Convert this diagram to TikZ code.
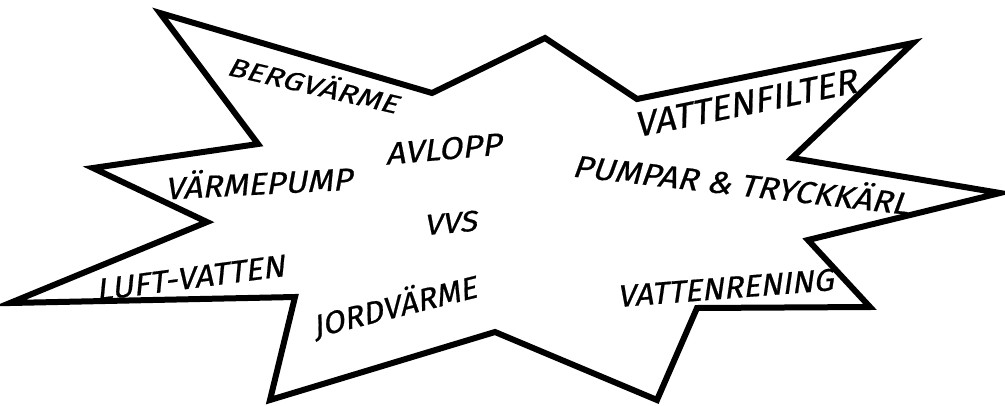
\documentclass[tikz,border=0pt]{standalone}
\usepackage{fontspec}
\newfontfamily\hand[FakeSlant=0.22,FakeBold=0.6]{Fira Sans}
\usepackage{graphicx}
\newcommand\lbl[3]{\resizebox{#1pt}{\height}{\fontsize{#2}{#2}\selectfont\hand #3}}
\begin{document}
\begin{tikzpicture}[x=1pt,y=-1pt,
  burst/.style={draw=black,line width=6pt,line join=miter,fill=white},
  word/.style={inner sep=0pt,text=black}]
\useasboundingbox (0,0) rectangle (1005,405);
\draw[burst] (160,13) -- (432,93) -- (545,38) -- (637,99) -- (913,43) -- (792,158)
  -- (1000,193) -- (808,240) -- (870,307) -- (697,308) -- (657,400) -- (495,332)
  -- (270,400) -- (295,297) -- (10,303) -- (207,222) -- (93,168) -- (258,144) -- cycle;
\node[word,rotate=-13] (berg) at (313,83) {\lbl{174}{26}{BERGVÄRME}};
\node[word,rotate=5] (avlopp) at (443,149) {\lbl{116}{31}{AVLOPP}};
\node[word,rotate=3] (vpump) at (258,181) {\lbl{187}{31}{VÄRMEPUMP}};
\node[word,rotate=5] (vvs) at (450,223) {\lbl{53}{29}{VVS}};
\node[word,rotate=7.5] (luft) at (190,278) {\lbl{190}{31}{LUFT-VATTEN}};
\node[word,rotate=14] (jord) at (394,306) {\lbl{168}{31}{JORDVÄRME}};
\node[word,rotate=11.5] (filter) at (745,103) {\lbl{226}{35}{VATTENFILTER}};
\node[word,rotate=-6.5] (pumpar) at (741,182) {\lbl{338}{31}{PUMPAR \&\ TRYCKKÄRL}};
\node[word,rotate=4.5] (rening) at (725,288) {\lbl{217}{31}{VATTENRENING}};
\end{tikzpicture}
\end{document}
